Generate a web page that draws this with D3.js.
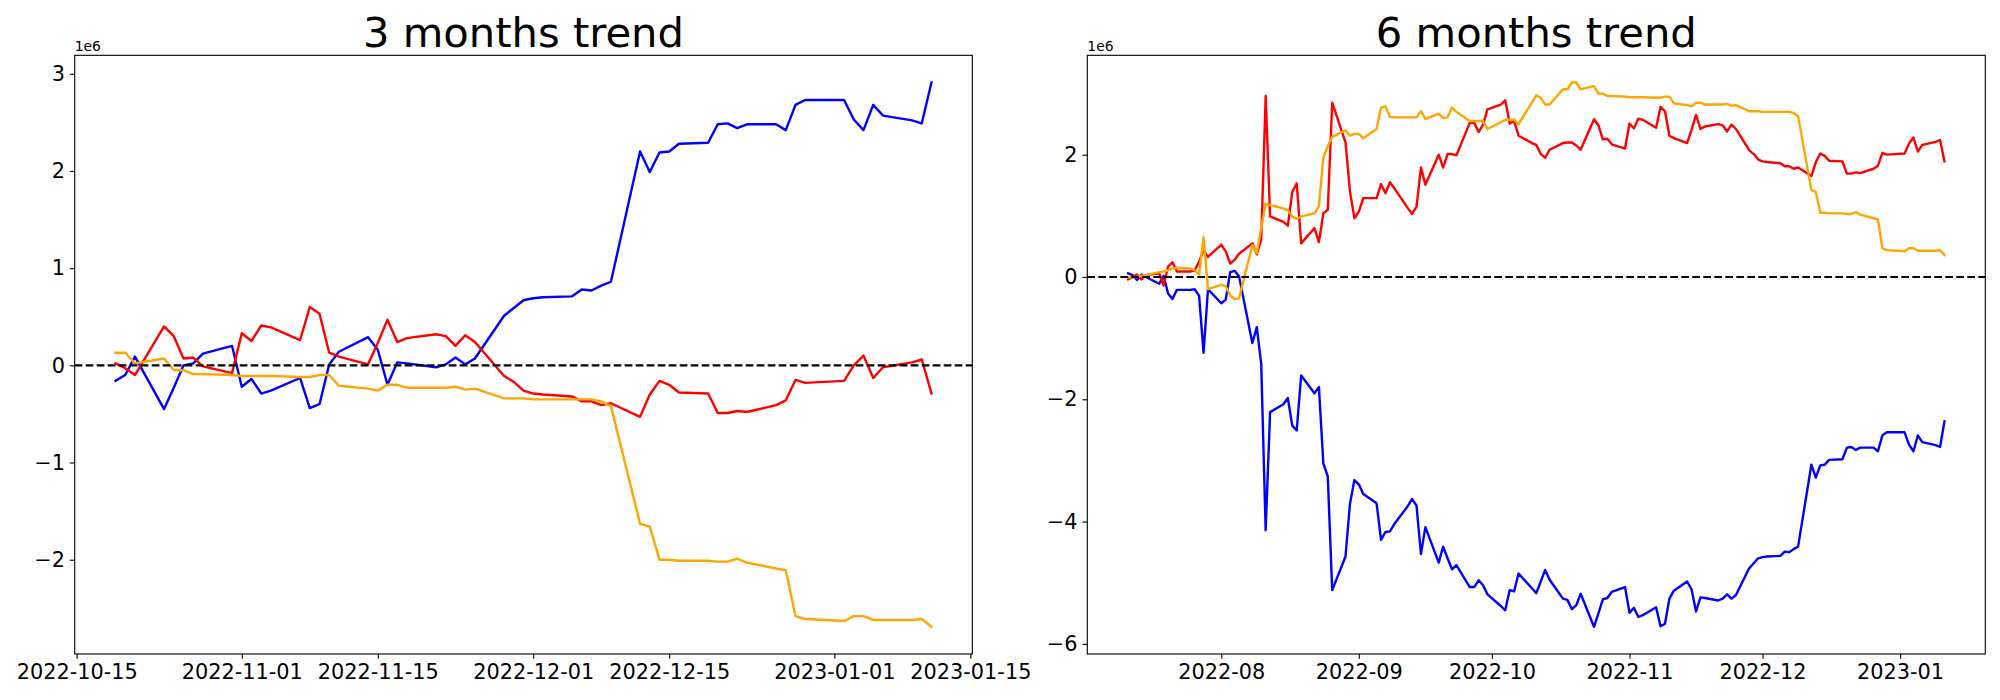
<!DOCTYPE html>
<html><head><meta charset="utf-8">
<script src="https://cdn.jsdelivr.net/npm/d3@7"></script>
<style>
body{margin:0;background:#fff;}
svg{display:block;}
text{font-family:"DejaVu Sans",sans-serif;fill:#000;}
</style>
</head><body>
<svg id="chart" width="2000" height="700"></svg>
<script>
// ---------- 3 months trend (values in 1e6) ----------
const dates3m = ["2022-10-19","2022-10-20","2022-10-21","2022-10-24","2022-10-25","2022-10-26","2022-10-27","2022-10-28","2022-10-31",
"2022-11-01","2022-11-02","2022-11-03","2022-11-04","2022-11-07","2022-11-08","2022-11-09","2022-11-10","2022-11-11","2022-11-14","2022-11-15","2022-11-16","2022-11-17","2022-11-18","2022-11-21","2022-11-22","2022-11-23","2022-11-24","2022-11-25","2022-11-28","2022-11-29","2022-11-30",
"2022-12-01","2022-12-02","2022-12-05","2022-12-06","2022-12-07","2022-12-08","2022-12-09","2022-12-12","2022-12-13","2022-12-14","2022-12-15","2022-12-16","2022-12-19","2022-12-20","2022-12-21","2022-12-22","2022-12-23","2022-12-26","2022-12-27","2022-12-28","2022-12-29",
"2023-01-02","2023-01-03","2023-01-04","2023-01-05","2023-01-06","2023-01-09","2023-01-10","2023-01-11"];
const blue3m = [-0.16,-0.10,0.09,-0.45,-0.23,0.00,0.02,0.12,0.20,
-0.22,-0.14,-0.29,-0.26,-0.13,-0.44,-0.40,0.01,0.14,0.29,0.16,-0.20,0.03,0.02,-0.02,0.01,0.08,0.01,0.07,0.51,0.59,0.67,
0.69,0.70,0.71,0.78,0.77,0.82,0.86,2.20,1.99,2.19,2.20,2.28,2.29,2.48,2.49,2.44,2.48,2.48,2.42,2.68,2.73,
2.73,2.53,2.42,2.68,2.57,2.52,2.49,2.91];
const red3m = [0.02,-0.03,-0.10,0.40,0.30,0.07,0.08,-0.01,-0.08,
0.33,0.25,0.41,0.39,0.26,0.60,0.53,0.13,0.09,0.01,0.23,0.47,0.24,0.28,0.32,0.30,0.20,0.31,0.24,-0.11,-0.17,-0.26,
-0.29,-0.30,-0.32,-0.37,-0.37,-0.41,-0.39,-0.53,-0.30,-0.16,-0.20,-0.28,-0.29,-0.49,-0.49,-0.47,-0.48,-0.41,-0.36,-0.15,-0.18,
-0.16,0.00,0.10,-0.13,-0.02,0.03,0.06,-0.29];
const orange3m = [0.13,0.13,0.02,0.07,-0.05,-0.05,-0.09,-0.09,-0.10,
-0.11,-0.11,-0.11,-0.11,-0.12,-0.12,-0.10,-0.10,-0.21,-0.24,-0.26,-0.20,-0.20,-0.23,-0.23,-0.23,-0.22,-0.25,-0.24,-0.34,-0.34,-0.34,
-0.35,-0.35,-0.35,-0.35,-0.35,-0.37,-0.42,-1.63,-1.66,-2.00,-2.00,-2.01,-2.01,-2.02,-2.02,-1.99,-2.03,-2.09,-2.11,-2.58,-2.61,
-2.63,-2.58,-2.58,-2.62,-2.62,-2.62,-2.61,-2.69];

// ---------- 6 months trend (values in 1e6) ----------
const dates6m = ["2022-07-11","2022-07-12","2022-07-13","2022-07-14","2022-07-15","2022-07-18","2022-07-19","2022-07-20","2022-07-21","2022-07-22","2022-07-25","2022-07-26","2022-07-27","2022-07-28","2022-07-29",
"2022-08-01","2022-08-02","2022-08-03","2022-08-04","2022-08-05","2022-08-08","2022-08-09","2022-08-10","2022-08-11","2022-08-12","2022-08-15","2022-08-16","2022-08-17","2022-08-18","2022-08-19","2022-08-22","2022-08-23","2022-08-24","2022-08-25","2022-08-26","2022-08-29","2022-08-30","2022-08-31",
"2022-09-01","2022-09-02","2022-09-05","2022-09-06","2022-09-07","2022-09-08","2022-09-09","2022-09-12","2022-09-13","2022-09-14","2022-09-15","2022-09-16","2022-09-19","2022-09-20","2022-09-21","2022-09-22","2022-09-23","2022-09-26","2022-09-27","2022-09-28","2022-09-29","2022-09-30",
"2022-10-03","2022-10-04","2022-10-05","2022-10-06","2022-10-07","2022-10-10","2022-10-11","2022-10-12","2022-10-13","2022-10-14","2022-10-17","2022-10-18",
"2022-10-19","2022-10-20","2022-10-21","2022-10-24","2022-10-25","2022-10-26","2022-10-27","2022-10-28","2022-10-31",
"2022-11-01","2022-11-02","2022-11-03","2022-11-04","2022-11-07","2022-11-08","2022-11-09","2022-11-10","2022-11-11","2022-11-14","2022-11-15","2022-11-16","2022-11-17","2022-11-18","2022-11-21","2022-11-22","2022-11-23","2022-11-24","2022-11-25","2022-11-28","2022-11-29","2022-11-30",
"2022-12-01","2022-12-02","2022-12-05","2022-12-06","2022-12-07","2022-12-08","2022-12-09","2022-12-12","2022-12-13","2022-12-14","2022-12-15","2022-12-16","2022-12-19","2022-12-20","2022-12-21","2022-12-22","2022-12-23","2022-12-26","2022-12-27","2022-12-28","2022-12-29",
"2023-01-02","2023-01-03","2023-01-04","2023-01-05","2023-01-06","2023-01-09","2023-01-10","2023-01-11"];
const blue6m = [0.06,0.03,-0.05,0.04,0.00,-0.11,0.02,-0.27,-0.36,-0.21,-0.21,-0.20,-0.31,-1.24,-0.20,
-0.43,-0.37,0.08,0.10,0.01,-1.08,-0.82,-1.42,-4.14,-2.21,-2.08,-1.98,-2.43,-2.51,-1.61,-1.90,-1.80,-3.05,-3.26,-5.12,-4.57,-3.71,-3.32,
-3.39,-3.55,-3.70,-4.30,-4.17,-4.16,-4.04,-3.75,-3.63,-3.74,-4.53,-4.09,-4.67,-4.41,-4.60,-4.78,-4.71,-5.07,-5.07,-4.96,-5.04,-5.19,
-5.38,-5.45,-5.12,-5.14,-4.85,-5.09,-5.17,-4.98,-4.79,-4.95,-5.26,-5.28,
-5.43,-5.37,-5.18,-5.72,-5.50,-5.27,-5.25,-5.15,-5.07,
-5.49,-5.41,-5.56,-5.53,-5.40,-5.71,-5.67,-5.26,-5.13,-4.98,-5.11,-5.47,-5.24,-5.25,-5.29,-5.26,-5.19,-5.26,-5.20,-4.76,-4.68,-4.60,
-4.58,-4.57,-4.56,-4.49,-4.50,-4.45,-4.41,-3.07,-3.28,-3.08,-3.07,-2.99,-2.98,-2.79,-2.78,-2.83,-2.79,-2.79,-2.85,-2.59,-2.54,
-2.54,-2.74,-2.85,-2.59,-2.70,-2.75,-2.78,-2.36];
const red6m = [-0.04,0.00,0.04,-0.04,0.03,0.06,-0.14,0.17,0.24,0.09,0.09,0.11,0.25,0.44,0.33,
0.53,0.42,0.22,0.28,0.38,0.55,0.37,0.61,2.96,0.99,0.90,0.84,1.39,1.53,0.55,0.80,0.57,1.04,1.10,2.85,2.20,1.40,0.96,
1.07,1.29,1.29,1.52,1.37,1.55,1.45,1.13,1.03,1.15,1.79,1.51,2.00,1.79,2.01,2.01,1.99,2.52,2.52,2.37,2.49,2.74,
2.82,2.89,2.51,2.55,2.31,2.19,2.16,2.01,1.95,2.08,2.19,2.20,
2.20,2.15,2.08,2.58,2.48,2.25,2.26,2.17,2.10,
2.51,2.43,2.59,2.57,2.44,2.78,2.71,2.31,2.27,2.19,2.41,2.65,2.42,2.46,2.50,2.48,2.38,2.49,2.42,2.07,2.01,1.92,
1.89,1.88,1.86,1.81,1.81,1.77,1.79,1.65,1.88,2.02,1.98,1.90,1.89,1.69,1.69,1.71,1.70,1.77,1.82,2.03,2.00,
2.02,2.18,2.28,2.05,2.16,2.21,2.24,1.89];
const orange6m = [0.00,-0.01,0.00,0.02,0.03,0.08,0.09,0.11,0.14,0.15,0.14,0.11,0.04,0.65,-0.20,
-0.13,-0.15,-0.30,-0.36,-0.35,0.52,0.39,0.80,1.20,1.18,1.12,1.09,0.99,0.95,0.99,1.04,1.16,1.95,2.14,2.29,2.40,2.31,2.34,
2.34,2.27,2.42,2.77,2.79,2.62,2.61,2.61,2.61,2.61,2.71,2.58,2.67,2.60,2.61,2.77,2.70,2.55,2.55,2.55,2.55,2.42,
2.53,2.57,2.57,2.57,2.50,2.85,2.97,2.93,2.82,2.82,3.07,3.07,
3.18,3.18,3.07,3.12,3.00,3.00,2.96,2.96,2.95,
2.94,2.94,2.94,2.94,2.93,2.93,2.95,2.95,2.84,2.81,2.79,2.85,2.85,2.82,2.82,2.82,2.83,2.80,2.81,2.71,2.71,2.71,
2.70,2.70,2.70,2.70,2.70,2.68,2.63,1.42,1.39,1.05,1.05,1.04,1.04,1.03,1.03,1.06,1.02,0.96,0.94,0.47,0.44,
0.42,0.47,0.47,0.43,0.43,0.43,0.44,0.36];

// ---------- ticks ----------
const xTicks3m = ["2022-10-15","2022-11-01","2022-11-15","2022-12-01","2022-12-15","2023-01-01","2023-01-15"];
const xTickLabels3m = ["2022-10-15","2022-11-01","2022-11-15","2022-12-01","2022-12-15","2023-01-01","2023-01-15"];
const xTicks6m = ["2022-08-01","2022-09-01","2022-10-01","2022-11-01","2022-12-01","2023-01-01"];
const xTickLabels6m = ["2022-08","2022-09","2022-10","2022-11","2022-12","2023-01"];
const yTicks3m = [-2,-1,0,1,2,3];
const yTicks6m = [-6,-4,-2,0,2];

const parse = d3.timeParse("%Y-%m-%d");
const svg = d3.select("#chart");
svg.append("rect").attr("width",2000).attr("height",700).attr("fill","#fff");

function panel(o){
  const ds = o.dates.map(parse);
  const ext = d3.extent(ds);
  const span = ext[1]-ext[0];
  const x = d3.scaleTime()
    .domain([new Date(+ext[0]-0.05*span), new Date(+ext[1]+0.05*span)])
    .range([0,o.width]);
  const all = o.series.flatMap(s=>s.values);
  const [mn,mx] = d3.extent(all);
  const r = mx-mn;
  const y = d3.scaleLinear().domain([mn-0.05*r, mx+0.05*r]).range([o.height,0]);

  const g = svg.append("g").attr("transform",`translate(${o.left},${o.top})`);
  const clipId = "clip"+o.id;
  g.append("clipPath").attr("id",clipId).append("rect").attr("width",o.width).attr("height",o.height);
  const plot = g.append("g").attr("clip-path",`url(#${clipId})`);
  const line = d3.line().x((d,i)=>x(ds[i])).y(d=>y(d));
  o.series.forEach(s=>{
    plot.append("path").datum(s.values).attr("d",line)
      .attr("fill","none").attr("stroke",s.color).attr("stroke-width",2.4)
      .attr("stroke-linejoin","round").attr("stroke-linecap","square");
  });
  plot.append("line").attr("x1",0).attr("x2",o.width).attr("y1",y(0)).attr("y2",y(0))
    .attr("stroke","#000").attr("stroke-width",2.2).attr("stroke-dasharray","7.7,3.3");

  // axes
  const tickMap = new Map(o.xTicks.map((t,i)=>[+parse(t), o.xTickLabels[i]]));
  const xa = d3.axisBottom(x).tickValues(o.xTicks.map(parse))
    .tickFormat(d=>tickMap.get(+d)).tickSizeInner(4.86).tickSizeOuter(0).tickPadding(4.86);
  const gx = g.append("g").attr("transform",`translate(0,${o.height})`).call(xa);
  const ya = d3.axisLeft(y).tickValues(o.yTicks)
    .tickFormat(d=>(d<0?"\u2212":"")+Math.abs(d)).tickSizeInner(4.86).tickSizeOuter(0).tickPadding(4.86);
  const gy = g.append("g").call(ya);
  [gx,gy].forEach(a=>{
    a.select(".domain").remove();
    a.selectAll(".tick line").attr("stroke","#000").attr("stroke-width",1.11);
    a.selectAll(".tick text").attr("font-family","DejaVu Sans").attr("font-size","20.83px").attr("fill","#000");
  });
  g.append("rect").attr("width",o.width).attr("height",o.height)
    .attr("fill","none").attr("stroke","#000").attr("stroke-width",1.11);

  g.append("text").attr("x",0).attr("y",-4.6).attr("font-size","13.9px").text("1e6");
  g.append("text").attr("x",o.width/2).attr("y",-8.3).attr("text-anchor","middle")
    .attr("font-size","41.67px").text(o.title);
}

panel({id:"a", left:74.7, top:55.3, width:897.6, height:598.7, title:"3 months trend",
  dates:dates3m,
  series:[{values:blue3m,color:"#0000ff"},{values:red3m,color:"#ff0000"},{values:orange3m,color:"#ffa500"}],
  xTicks:xTicks3m, xTickLabels:xTickLabels3m, yTicks:yTicks3m});
panel({id:"b", left:1087.3, top:55.3, width:898, height:598.7, title:"6 months trend",
  dates:dates6m,
  series:[{values:blue6m,color:"#0000ff"},{values:red6m,color:"#ff0000"},{values:orange6m,color:"#ffa500"}],
  xTicks:xTicks6m, xTickLabels:xTickLabels6m, yTicks:yTicks6m});
</script>
</body></html>
